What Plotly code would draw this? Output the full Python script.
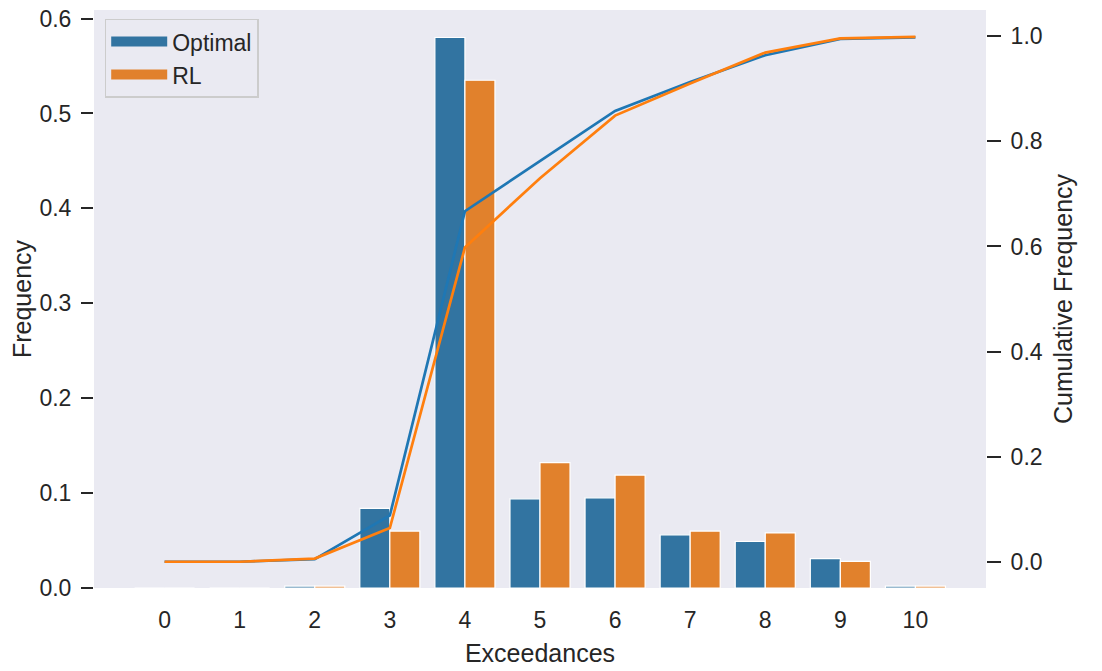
import plotly.graph_objects as go

# ---- data ----
exceedances = [0, 1, 2, 3, 4, 5, 6, 7, 8, 9, 10]
freq_optimal = [0.0, 0.0, 0.002, 0.084, 0.580, 0.094, 0.095, 0.056, 0.049, 0.031, 0.002]
freq_rl = [0.0, 0.0, 0.002, 0.060, 0.535, 0.132, 0.119, 0.060, 0.058, 0.028, 0.002]
cum_optimal = [0.0, 0.0, 0.005, 0.088, 0.667, 0.762, 0.858, 0.913, 0.964, 0.995, 0.998]
cum_rl = [0.0, 0.0, 0.006, 0.064, 0.598, 0.730, 0.849, 0.910, 0.969, 0.996, 0.999]
series_names = ["Optimal", "RL"]

bar_colors = ["#3274a1", "#e1812c"]
line_colors = ["#1f77b4", "#ff7f0e"]
text_color = "#262626"
font_family = "Liberation Sans, Arial, sans-serif"

fig = go.Figure()

for name, vals, col in zip(series_names, [freq_optimal, freq_rl], bar_colors):
    fig.add_trace(go.Bar(
        x=exceedances, y=vals, name=name, marker_color=col,
        marker_line_color="white", marker_line_width=1.2,
        showlegend=False, yaxis="y",
    ))

for name, vals, col in zip(series_names, [cum_optimal, cum_rl], line_colors):
    fig.add_trace(go.Scatter(
        x=exceedances, y=vals, mode="lines", name=name + " cumulative",
        line=dict(color=col, width=2.7), showlegend=False, yaxis="y2",
    ))

# legend entries (patch-like)
for name, col in zip(series_names, bar_colors):
    fig.add_trace(go.Scatter(
        x=[None], y=[None], mode="lines", name=name,
        line=dict(color=col, width=14), showlegend=True,
    ))

fig.update_layout(
    width=1102, height=671,
    margin=dict(l=94, r=116, t=10, b=83),
    paper_bgcolor="white",
    plot_bgcolor="#eaeaf2",
    barmode="group", bargap=0.2, bargroupgap=0.0,
    font=dict(family=font_family, size=23, color=text_color),
    xaxis=dict(
        range=[-0.94, 10.94], tickmode="array", tickvals=exceedances,
        ticktext=[str(v) for v in exceedances],
        showgrid=False, zeroline=False, showline=False, ticks="",
        automargin=False, ticklabelstandoff=16,
        title=dict(text="Exceedances", font=dict(size=25), standoff=12),
        tickfont=dict(size=23),
    ),
    yaxis=dict(
        range=[0, 0.609], tickmode="array",
        tickvals=[0.0, 0.1, 0.2, 0.3, 0.4, 0.5, 0.6],
        tickformat=".1f", showgrid=False, zeroline=False, showline=False,
        ticks="outside", ticklen=12, tickwidth=2, tickcolor=text_color,
        automargin=False, ticklabelstandoff=5,
        title=dict(text="Frequency", font=dict(size=25), standoff=0),
        tickfont=dict(size=23),
    ),
    yaxis2=dict(
        range=[-0.05, 1.05], overlaying="y", side="right", tickmode="array",
        tickvals=[0.0, 0.2, 0.4, 0.6, 0.8, 1.0],
        tickformat=".1f", showgrid=False, zeroline=False, showline=False,
        ticks="outside", ticklen=14, tickwidth=2, tickcolor=text_color,
        automargin=False, ticklabelstandoff=5,
        title=dict(text="Cumulative Frequency", font=dict(size=25), standoff=12),
        tickfont=dict(size=23),
    ),
    legend=dict(
        x=0.012, y=0.985, xanchor="left", yanchor="top",
        bgcolor="#eaeaf2", bordercolor="#cccccc", borderwidth=1.5,
        font=dict(size=23, color=text_color),
        itemwidth=56, tracegroupgap=0,
    ),
)

fig.write_html(
    "out.html",
    config={"displayModeBar": False},
    post_script="document.body.style.margin='0';",
)
